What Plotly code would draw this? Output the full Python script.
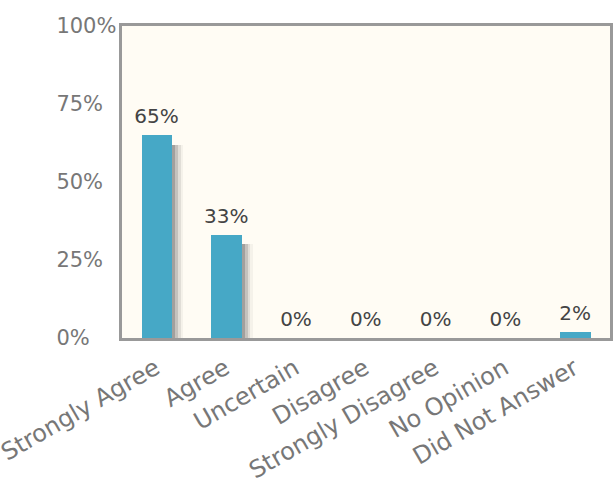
import plotly.graph_objects as go

categories = ["Strongly Agree", "Agree", "Uncertain", "Disagree",
              "Strongly Disagree", "No Opinion", "Did Not Answer"]
values = [65, 33, 0, 0, 0, 0, 2]
y_ticks = [0, 25, 50, 75, 100]
y_tick_text = ["0%", "25%", "50%", "75%", "100%"]
value_text = [f"{v}%" for v in values]

W, H = 616, 479
ml, mr, mt, mb = 40, 3, 26, 141
pw = W - ml - mr
x0 = (122 - ml) / pw

fig = go.Figure()

# soft shadow layers (on y, shifted range so they appear slightly lower)
for off, op in [(0.0, 0.30), (0.04, 0.20), (0.08, 0.12), (0.12, 0.06)]:
    fig.add_trace(go.Bar(
        x=categories, y=values, width=0.44, offset=-0.22 + 0.04 + off,
        marker=dict(color="#555555", line=dict(width=0)), opacity=op,
        hoverinfo="skip", showlegend=False, yaxis="y"))

fig.add_trace(go.Bar(
    x=categories, y=values, width=0.44, offset=-0.22,
    marker=dict(color="#46a8c6", line=dict(width=0)),
    showlegend=False, yaxis="y2"))

fig.add_trace(go.Scatter(
    x=categories, y=values, mode="markers+text",
    marker=dict(size=10, opacity=0), text=value_text,
    textposition="top center",
    textfont=dict(family="DejaVu Sans", size=20, color="#444"),
    cliponaxis=False, showlegend=False, hoverinfo="skip", yaxis="y2"))

fig.update_layout(
    width=W, height=H,
    margin=dict(l=ml, r=mr, t=mt, b=mb),
    paper_bgcolor="white", plot_bgcolor="#fffcf4",
    barmode="overlay", bargap=0,
    font=dict(family="DejaVu Sans", color="#777"),
    xaxis=dict(domain=[x0, 1], showline=True, linecolor="#999", linewidth=3,
               mirror=True, tickangle=-30, ticks="", showgrid=False,
               tickfont=dict(size=24, color="#777"), automargin=False,
               ticklabelstandoff=4, ticklabelshift=-1),
    yaxis=dict(range=[3, 103], showline=True, linecolor="#999", linewidth=3,
               mirror=True, showticklabels=False, showgrid=False, ticks="",
               zeroline=False, fixedrange=True),
    yaxis2=dict(range=[0, 100], overlaying="y", side="right", anchor="free",
                position=0.027, tickvals=y_ticks, ticktext=y_tick_text,
                showgrid=False, zeroline=False, showline=False, ticks="",
                tickfont=dict(size=21, color="#777"), automargin=False),
)

fig.write_html("out.html", config={"displayModeBar": False},
               post_script="document.body.style.margin='0';")
